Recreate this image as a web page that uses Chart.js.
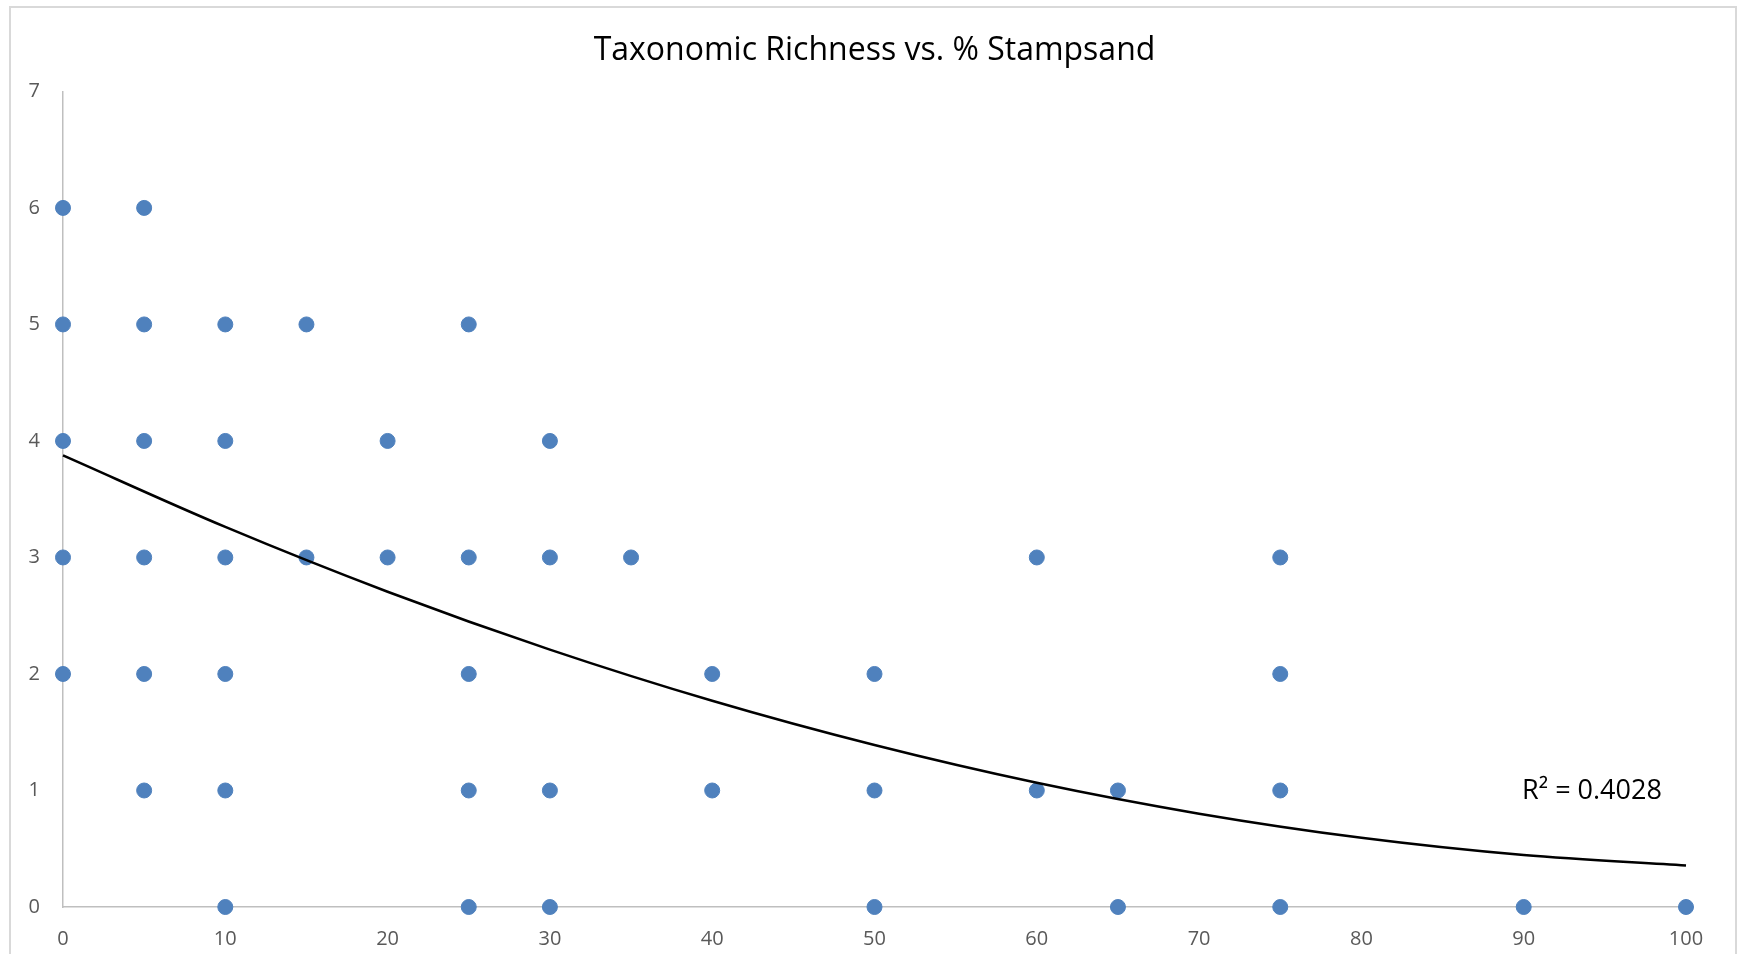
<!DOCTYPE html>
<html>
<head>
  <title>Taxonomic Richness vs. % Stampsand</title>
  <script src="https://cdn.jsdelivr.net/npm/chart.js"></script>
  <style>
    html, body { margin: 0; padding: 0; background: #fff; overflow: hidden; }
    #frame { position: absolute; left: 9px; top: 6px; width: 1724px; height: 1000px; border: 2px solid #D9D9D9; }
    #wrap { position: absolute; left: 0; top: 0; width: 1741px; height: 954px; }
  </style>
</head>
<body>
  <div id="frame"></div>
  <div id="wrap"><canvas id="richChart"></canvas></div>

  <script>
    // % stampsand per sample and taxa counted
    const stampsand = [0, 0, 0, 0, 0,
                       5, 5, 5, 5, 5, 5,
                       10, 10, 10, 10, 10, 10,
                       15, 15,
                       20, 20,
                       25, 25, 25, 25, 25,
                       30, 30, 30, 30,
                       35,
                       40, 40,
                       50, 50, 50,
                       60, 60,
                       65, 65,
                       75, 75, 75, 75,
                       90,
                       100];
    const richness = [6, 5, 4, 3, 2,
                      6, 5, 4, 3, 2, 1,
                      5, 4, 3, 2, 1, 0,
                      5, 3,
                      4, 3,
                      5, 3, 2, 1, 0,
                      4, 3, 1, 0,
                      3,
                      2, 1,
                      2, 1, 0,
                      3, 1,
                      1, 0,
                      3, 2, 1, 0,
                      0,
                      0];

    // polynomial trendline, read at every 10%
    const trendX = [0, 10, 20, 30, 40, 50, 60, 70, 80, 90, 100];
    const trendY = [3.876, 3.262, 2.706, 2.209, 1.770, 1.390, 1.066, 0.801, 0.594, 0.446, 0.356];
    const rSquared = "R² = 0.4028";

    const FONT = "'Open Sans', 'Noto Sans', sans-serif";

    const points = stampsand.map((x, i) => ({ x: x, y: richness[i] }));
    const trend = trendX.map((x, i) => ({ x: x, y: trendY[i] }));

    // writes the R² value beside the end of the trendline
    const r2Label = {
      id: "r2Label",
      afterDatasetsDraw(chart) {
        const { ctx, scales } = chart;
        ctx.save();
        ctx.font = "27px " + FONT;
        ctx.fillStyle = "#000";
        ctx.textAlign = "left";
        ctx.textBaseline = "middle";
        ctx.fillText(rSquared, scales.x.getPixelForValue(89.9), scales.y.getPixelForValue(0.99));
        ctx.restore();
      }
    };

    const ctx = document.getElementById("richChart").getContext("2d");
    const chart = new Chart(ctx, {
      type: "scatter",
      data: {
        datasets: [
          {
            label: "Trend",
            type: "line",
            data: trend,
            borderColor: "#000",
            borderWidth: 2.5,
            pointRadius: 0,
            fill: false,
            cubicInterpolationMode: "monotone",
            clip: false,
            order: 0
          },
          {
            label: "Richness",
            data: points,
            backgroundColor: "#4F81BD",
            borderColor: "#4F81BD",
            pointRadius: 7.5,
            pointHoverRadius: 7.5,
            clip: false,
            order: 1
          }
        ]
      },
      options: {
        responsive: true,
        maintainAspectRatio: false,
        animation: false,
        layout: { padding: { left: 0, right: 55, top: 0, bottom: 0 } },
        plugins: {
          legend: { display: false },
          tooltip: { enabled: false },
          title: {
            display: true,
            fullSize: false, // centre over the plot area
            text: "Taxonomic Richness vs. % Stampsand",
            color: "#000",
            font: { family: FONT, size: 32, weight: "normal" },
            padding: { top: 32, bottom: 21 }
          }
        },
        scales: {
          x: {
            type: "linear",
            min: 0,
            max: 100,
            grid: { display: false, drawTicks: false },
            border: { display: true, color: "#BFBFBF", width: 1.5 },
            ticks: { stepSize: 10, color: "#595959", padding: 20, font: { family: FONT, size: 20 } },
            afterFit(scale) { scale.height = 47; }
          },
          y: {
            min: 0,
            max: 7,
            grid: { display: false, drawTicks: false },
            border: { display: true, color: "#BFBFBF", width: 1.5 },
            ticks: { stepSize: 1, color: "#595959", padding: 23, font: { family: FONT, size: 20 } },
            afterFit(scale) { scale.width = 63; }
          }
        }
      },
      plugins: [r2Label]
    });
  </script>
</body>
</html>
